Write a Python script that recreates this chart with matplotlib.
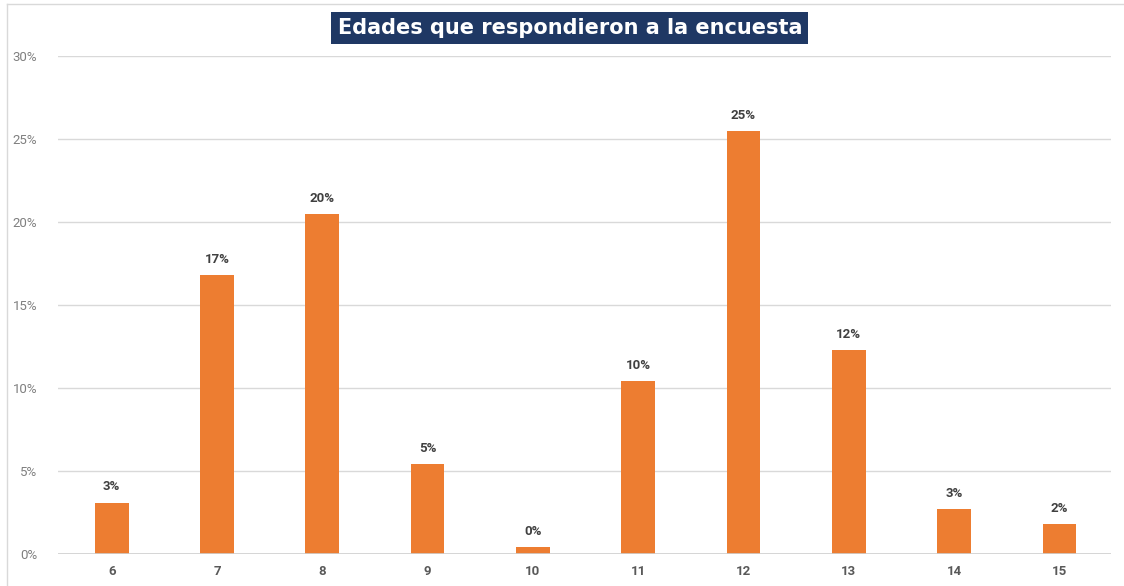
import matplotlib.pyplot as plt
from matplotlib.lines import Line2D

# Datos
edades = ["6", "7", "8", "9", "10", "11", "12", "13", "14", "15"]
porcentajes = [3.1, 16.8, 20.5, 5.4, 0.4, 10.4, 25.5, 12.3, 2.7, 1.8]
etiquetas = ["3%", "17%", "20%", "5%", "0%", "10%", "25%", "12%", "3%", "2%"]
yticks = [0, 5, 10, 15, 20, 25, 30]

naranja = "#ed7d31"
navy = "#1f3864"

plt.rcParams['font.family'] = ['Roboto', 'DejaVu Sans']

fig = plt.figure(figsize=(11.24, 5.86), dpi=100)
ax = fig.add_axes([58 / 1124, 1 - 554 / 586, (1111 - 58) / 1124, (554 - 56) / 586])

x = range(len(edades))
ax.bar(x, porcentajes, width=0.32, color=naranja, zorder=3)

for i, (v, lab) in enumerate(zip(porcentajes, etiquetas)):
    ax.text(i, v + 0.55, lab, ha='center', va='bottom', fontsize=9.5,
            fontweight='bold', color='#404040')

ax.set_xlim(-0.51, len(edades) - 0.51)
ax.set_ylim(0, 30)
ax.set_yticks(yticks)
ax.set_yticklabels([f"{t}%" for t in yticks], color='#7f7f7f', fontsize=9.5)
ax.set_xticks(list(x))
ax.set_xticklabels(edades, fontsize=9.5, fontweight='bold', color='#595959')
ax.tick_params(length=0, axis='y', pad=15)
ax.tick_params(length=0, axis='x', pad=8)

ax.grid(axis='y', color='#d9d9d9', linewidth=1, zorder=0)
for s in ax.spines.values():
    s.set_visible(False)
ax.axhline(0, color='#d0d0d0', linewidth=1.2, zorder=4)

# titulo con caja
fig.text(0.507, 1 - 28 / 586, "Edades que respondieron a la encuesta",
         ha='center', va='center', fontsize=15, fontweight='bold', color='white',
         family=['DejaVu Sans'],
         bbox=dict(boxstyle='square,pad=0.3', facecolor=navy, edgecolor='none'))

# marco del recuadro
fig.add_artist(Line2D([7 / 1124, 1], [1 - 4 / 586, 1 - 4 / 586], color='#d9d9d9', linewidth=1))
fig.add_artist(Line2D([7 / 1124, 7 / 1124], [0, 1 - 4 / 586], color='#d9d9d9', linewidth=1))

fig.savefig("out.png", dpi=100)
